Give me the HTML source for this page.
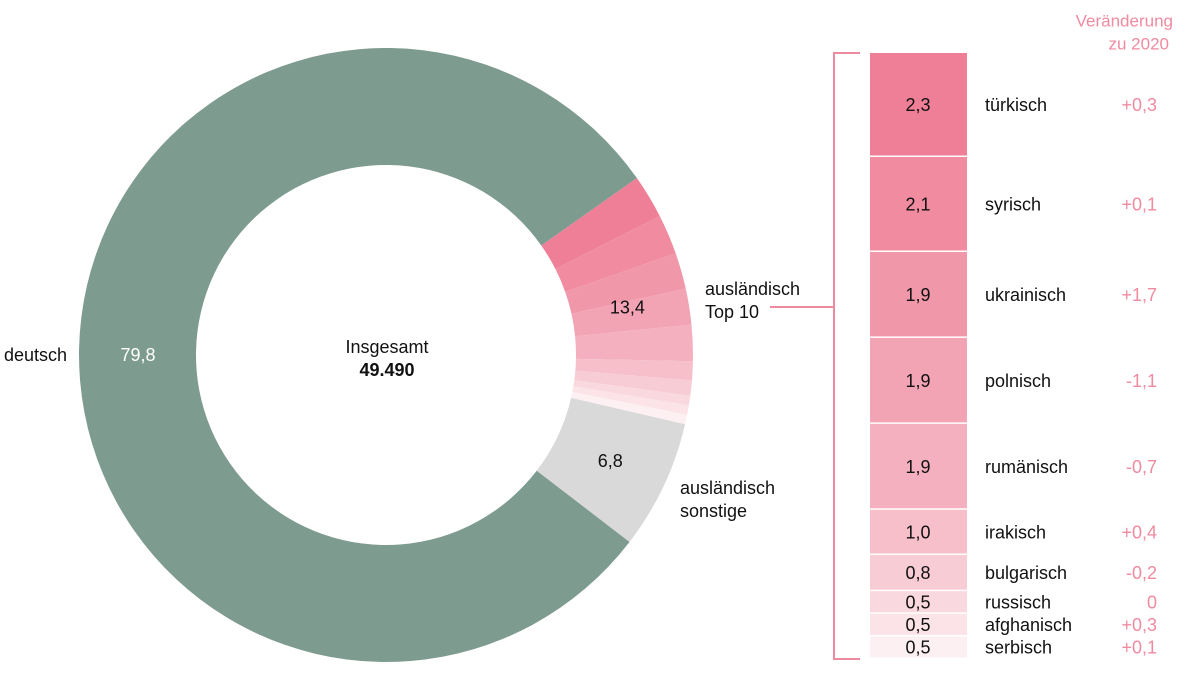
<!DOCTYPE html>
<html><head><meta charset="utf-8"><style>
html,body{margin:0;padding:0;background:#fff;}
svg{display:block;font-family:"Liberation Sans",sans-serif;}
</style></head><body>
<svg id="c" width="1200" height="681" viewBox="0 0 1200 681"></svg>
<script>
const mainCats=['deutsch','ausländisch Top 10','ausländisch sonstige'];
const mainVals=[79.8,13.4,6.8];
const topCats=['türkisch','syrisch','ukrainisch','polnisch','rumänisch','irakisch','bulgarisch','russisch','afghanisch','serbisch'];
const topVals=[2.3,2.1,1.9,1.9,1.9,1.0,0.8,0.5,0.5,0.5];
const topChange=['+0,3','+0,1','+1,7','-1,1','-0,7','+0,4','-0,2','0','+0,3','+0,1'];
const total='49.490';

const NS='http://www.w3.org/2000/svg';
const svg=document.getElementById('c');
function mk(t,a,txt){const e=document.createElementNS(NS,t);for(const k in a)e.setAttribute(k,a[k]);if(txt!=null)e.textContent=txt;svg.appendChild(e);return e;}
const pinks=['#ee7f97','#f08ba0','#f197aa','#f2a3b4','#f4b0be','#f6bfca','#f8ccd5','#fad8df','#fbe3e8','#fdf0f3'];
const cx=386,cy=355,R=307,r=190;
const fmt=v=>v.toFixed(1).replace('.',',');
const startDeg=54.8;
const sum=mainVals.reduce((a,b)=>a+b,0);
function pt(deg,rad){const a=deg*Math.PI/180;return [cx+rad*Math.sin(a),cy-rad*Math.cos(a)];}
function arc(a0,a1,fill,name){
  const [x0,y0]=pt(a0,R),[x1,y1]=pt(a1,R),[x2,y2]=pt(a1,r),[x3,y3]=pt(a0,r);
  const lg=(a1-a0)>180?1:0;
  const p=mk('path',{d:`M${x0},${y0}A${R},${R} 0 ${lg} 1 ${x1},${y1}L${x2},${y2}A${r},${r} 0 ${lg} 0 ${x3},${y3}Z`,fill:fill});
  
  
}
let a=startDeg;
const topSpan=mainVals[1]/sum*360;
const topSum=topVals.reduce((x,y)=>x+y,0);
topVals.forEach((v,i)=>{const s=v/topSum*topSpan;arc(a,a+s,pinks[i],'slice-'+topCats[i]);a+=s;});
const sonStart=a, sonSpan=mainVals[2]/sum*360;
arc(sonStart,sonStart+sonSpan,'#d9d9d9','slice-sonstige');
const deStart=sonStart+sonSpan;
arc(deStart,startDeg+360,'#7e9b90','slice-deutsch');
function lab(x,y,t,fill,name,size,anchor,weight){const e=mk('text',{x:x,y:y,'font-size':size||18,fill:fill||'#111','text-anchor':anchor||'middle','dominant-baseline':'central','font-weight':weight||'normal'},t);return e;}
let m=(startDeg+topSpan/2);let p=pt(m,248);lab(p[0]-2,p[1],fmt(mainVals[1]),'#111','value-top10');
m=sonStart+sonSpan/2;p=pt(m,248);lab(p[0],p[1],fmt(mainVals[2]),'#111','value-sonstige');
lab(138,355,fmt(mainVals[0]),'#fff','value-deutsch');
lab(4,355,mainCats[0],'#111','label-deutsch',18,'start');
lab(705,289,'ausländisch','#111','label-top10-1',18,'start');
lab(705,312,'Top 10','#111','label-top10-2',18,'start');
lab(680,488,'ausländisch','#111','label-sonstige-1',18,'start');
lab(680,511,'sonstige','#111','label-sonstige-2',18,'start');
lab(387,347,'Insgesamt','#111','center-title');
lab(387,370,total,'#111','center-total',18,'middle','bold');
const bT=53,bB=659,bx=834;
const br=mk('path',{d:`M860,${bT}H${bx}V${bB}H860M770,307H${bx}`,fill:'none',stroke:'#ee8aa0','stroke-width':2});


const ky=(bB-bT)/topSum;
let y=bT;
topVals.forEach((v,i)=>{
  const h=v*ky;
  const rc=mk('rect',{x:870,y:y,width:97,height:Math.max(h-1.5,0),fill:pinks[i]});
  
  
  const yc=y+h/2;
  lab(918,yc,fmt(v),'#111','bar-value-'+topCats[i]);
  lab(985,yc,topCats[i],'#111','bar-label-'+topCats[i],18,'start');
  lab(1157,yc,topChange[i],'#f08aa0','change-'+topCats[i],18,'end');
  y+=h;
});
lab(1173,21,'Veränderung','#f08aa0','change-header-1',17,'end');
lab(1169,44,'zu 2020','#f08aa0','change-header-2',17,'end');
</script>
</body></html>
